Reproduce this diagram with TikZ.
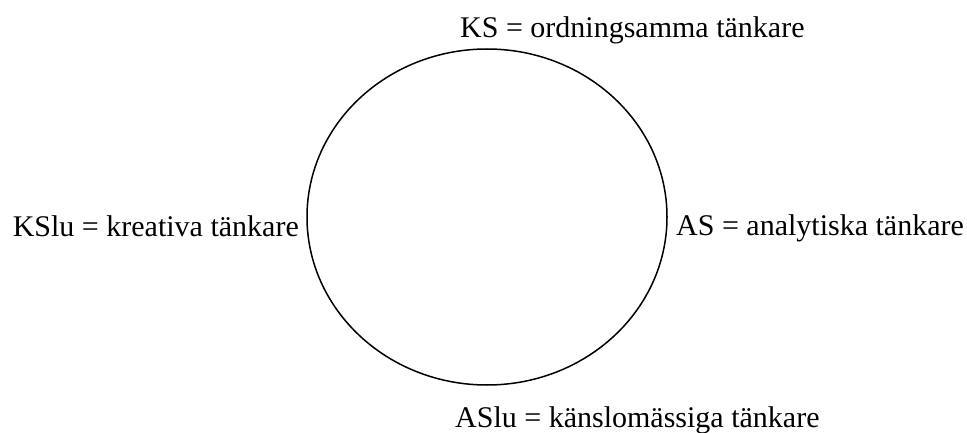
\documentclass[tikz,border=0pt]{standalone}
\usepackage{fontspec}
\setmainfont{Liberation Serif}
\usetikzlibrary{shapes.geometric}
\begin{document}
\begin{tikzpicture}[x=1pt,y=-1pt,
  lbl/.style={inner sep=0pt,font=\fontsize{30}{34}\selectfont}]
\useasboundingbox (0,0) rectangle (967,433);
\node[draw,line width=1.5pt,ellipse,minimum width=360,minimum height=336,inner sep=0pt] (c) at (487,217) {};
\node[lbl,anchor=base west] (ks) at (460,38) {KS = ordningsamma tänkare};
\node[lbl,anchor=base west] (aslu) at (455,427) {ASlu = känslomässiga tänkare};
\node[lbl,anchor=base east] (kslu) at (299,236) {KSlu = kreativa tänkare};
\node[lbl,anchor=base west] (as) at (676,235) {AS = analytiska tänkare};
\end{tikzpicture}
\end{document}
